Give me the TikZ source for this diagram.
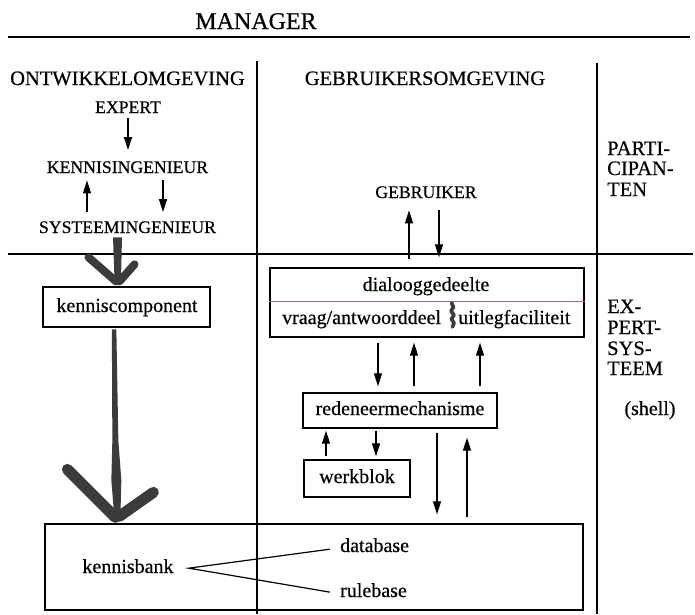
\documentclass[tikz,border=0pt]{standalone}
\usepackage{fontspec}
\setmainfont[FakeBold=0.5]{Liberation Serif}
\usetikzlibrary{arrows.meta,calc}
\definecolor{tk}{rgb}{0.23,0.23,0.23}
\definecolor{divcol}{rgb}{0.74,0.36,0.42}
\begin{document}
\begin{tikzpicture}[x=1pt,y=-1pt,
  capsS/.style={font=\fontsize{17.7}{20}\selectfont, inner sep=0pt, anchor=base},
  capsL/.style={font=\fontsize{20.5}{22}\selectfont, inner sep=0pt, anchor=base},
  lower/.style={font=\fontsize{20}{22}\selectfont, inner sep=0pt, anchor=base},
  rlabel/.style={font=\fontsize{20.5}{22}\selectfont, inner sep=0pt, anchor=base west},
  boxx/.style={draw, line width=1.3pt, inner sep=0pt},
  sepline/.style={line width=1.4pt},
  arr/.style={line width=1.2pt, -{Triangle[length=13pt,width=8pt]}},
  fat/.style={tk, line width=#1, line cap=round}
]
\useasboundingbox (0,0) rectangle (695,614);

% separators
\coordinate (tl) at (8,37);   \coordinate (tr) at (690,37);
\coordinate (ml) at (8,254);  \coordinate (mr) at (693,254);
\coordinate (v1t) at (257,61); \coordinate (v1b) at (257,614);
\coordinate (v2t) at (597,63); \coordinate (v2b) at (597,614);
\draw[sepline] (tl) -- (tr);
\draw[sepline] (ml) -- (mr);
\draw[sepline] (v1t) -- (v1b);
\draw[sepline] (v2t) -- (v2b);

% headings
\node[capsL, font=\fontsize{24}{26}\selectfont] (manager) at (256,29) {MANAGER};
\node[capsL] (ontw) at (127.5,85) {ONTWIKKELOMGEVING};
\node[capsL] (gebromg) at (425,85) {GEBRUIKERSOMGEVING};

% participants
\node[capsS] (expert) at (128,113) {EXPERT};
\node[capsS] (kenn) at (127.5,173) {KENNISINGENIEUR};
\node[capsS] (syst) at (127.5,233) {SYSTEEMINGENIEUR};
\node[capsS] (gebr) at (426,198) {GEBRUIKER};

% right column labels
\node[rlabel] (p1) at (607,155) {PARTI-};
\node[rlabel] (p2) at (607,175) {CIPAN-};
\node[rlabel] (p3) at (607,196) {TEN};
\node[rlabel] (e1) at (607,313) {EX-};
\node[rlabel] (e2) at (607,334) {PERT-};
\node[rlabel] (e3) at (607,355) {SYS-};
\node[rlabel] (e4) at (607,375) {TEEM};
\node[lower] (shell) at (650,415) {(shell)};

% boxes
\node[boxx, minimum width=167pt, minimum height=40pt] (kcbox) at (126.5,307) {};
\node[lower] (kctext) at (127,312) {kenniscomponent};

\node[boxx, minimum width=314pt, minimum height=69pt] (dlg) at (427,302.5) {};
\draw[divcol, line width=1pt] ([yshift=1.5pt]dlg.west) -- ([yshift=1.5pt]dlg.east);
\node[lower] (dlgtext) at (426,291) {dialooggedeelte};
\node[lower, anchor=base west] (vraag) at (282,324) {vraag/antwoorddeel};
\node[lower, anchor=base west] (uitleg) at (458,324) {uitlegfaciliteit};
\draw[tk, line width=3.6pt, line join=round, line cap=round]
  (451.5,303) -- (453.5,307) -- (451,311) -- (454,315) -- (451.5,319) -- (454,323) -- (452.5,327);

\node[boxx, minimum width=194pt, minimum height=35pt] (red) at (400,410.5) {};
\node[lower] (redtext) at (400,415) {redeneermechanisme};

\node[boxx, minimum width=106pt, minimum height=37pt] (werk) at (357,478.5) {};
\node[lower] (werktext) at (357,483) {werkblok};

\node[boxx, minimum width=538pt, minimum height=86pt] (kb) at (314,567) {};
\node[lower] (kbtext) at (128,573) {kennisbank};
\node[lower, anchor=base west] (db) at (340,552) {database};
\node[lower, anchor=base west] (rb) at (340,597) {rulebase};
\coordinate (fork) at ($(kbtext.east)+(15,2)$);
\draw[line width=1.2pt] ($(db.west)+(-10,4)$) -- (fork) -- ($(rb.west)+(-10,2)$);

% column coordinates for thin arrows
\coordinate (xa) at (128,0);
\coordinate (xb) at (87,0);
\coordinate (xc) at (163,0);
\coordinate (xd) at (409,0);
\coordinate (xe) at (439,0);
\coordinate (xf) at (378,0);
\coordinate (xg) at (414,0);
\coordinate (xh) at (480,0);
\coordinate (xi) at (326,0);
\coordinate (xj) at (376,0);
\coordinate (xk) at (437,0);
\coordinate (xl) at (467,0);

\draw[arr, shorten <=5pt, shorten >=11pt] (xa |- expert.south) -- (xa |- kenn.north);
\draw[arr, shorten <=9pt, shorten >=7pt] (xb |- syst.north) -- (xb |- kenn.south);
\draw[arr, shorten <=7pt, shorten >=9pt] (xc |- kenn.south) -- (xc |- syst.north);

\draw[arr, shorten <=8pt, shorten >=12pt] (xd |- dlg.north) -- (xd |- gebr.south);
\draw[arr, shorten <=12pt, shorten >=10pt] (xe |- gebr.south) -- (xe |- dlg.north);

\draw[arr, shorten <=5pt, shorten >=6pt] (xf |- dlg.south) -- (xf |- red.north);
\draw[arr, shorten <=6pt, shorten >=5pt] (xg |- red.north) -- (xg |- dlg.south);
\draw[arr, shorten <=6pt, shorten >=5pt] (xh |- red.north) -- (xh |- dlg.south);

\draw[arr, shorten <=3pt, shorten >=2pt] (xi |- werk.north) -- (xi |- red.south);
\draw[arr, shorten <=2pt, shorten >=3pt] (xj |- red.south) -- (xj |- werk.north);

\draw[arr, shorten <=4pt, shorten >=9pt] (xk |- red.south) -- (xk |- kb.north);
\draw[arr, shorten <=6pt, shorten >=9pt] (xl |- kb.north) -- (xl |- red.south);

% hand-drawn thick arrows
\coordinate (tip1) at ($(kcbox.north)+(-9,-3)$);
\begin{scope}[shift={(tip1)}]
  \fill[tk] (-4.5,-46) -- (4.5,-46) -- (3.5,-4) -- (0,0) -- (-3,-4) -- cycle;
  \draw[fat=8pt] (-29,-26) -- (-1.5,-2);
  \draw[fat=8pt] (17,-19) -- (2,-2);
\end{scope}
\coordinate (tip2) at ($(kb.north west)+(73,-3)$);
\begin{scope}[shift={(tip2)}]
  \fill[tk] (-5.5,-191) -- (-1,-191) -- (1,-80) -- (4,-40) -- (3,-3) -- (0,0) -- (-3,-3) -- (-6,-40) -- (-5,-80) -- cycle;
  \draw[fat=11pt] (-50,-51) -- (-2,-3);
  \draw[fat=11pt] (36,-28) -- (2,-4);
\end{scope}
\end{tikzpicture}
\end{document}
